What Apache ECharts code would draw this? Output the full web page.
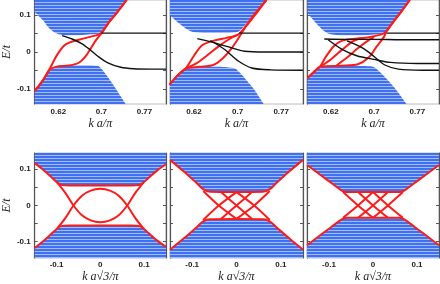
<!DOCTYPE html>
<html><head><meta charset="utf-8">
<script src="https://cdn.jsdelivr.net/npm/echarts@6/dist/echarts.min.js"></script>
<style>html,body{margin:0;padding:0;background:#fff}#c{width:440px;height:284px}</style>
</head><body><div id="c"></div>
<script>
// ---------- tick labels ----------
const topTicks = [0.62, 0.70, 0.78];
const topTickLabels = ['0.62', '0.7', '0.77'];
const botTicks = [-0.1, 0, 0.1];
const botTickLabels = ['-0.1', '0', '0.1'];
const yTickVals = [-0.1, -0.05, 0, 0.05, 0.1];
const yLabelVals = [-0.1, 0, 0.1];

// ---------- top row (k a / pi) ----------
// panel 1
const t1UpperBand = [[0.576,0.108],[0.591,0.086],[0.603,0.064],[0.615,0.051],[0.627,0.046],[0.652,0.045],[0.676,0.047],[0.694,0.049],[0.700,0.053],[0.712,0.077],[0.730,0.110],[0.745,0.14]];
const t1LowerBand = [[0.576,-0.104],[0.591,-0.074],[0.603,-0.052],[0.615,-0.041],[0.640,-0.036],[0.670,-0.0355],[0.694,-0.038],[0.706,-0.056],[0.724,-0.093],[0.745,-0.14]];
const t1RedA = [[0.576,-0.105],[0.591,-0.077],[0.603,-0.048],[0.618,-0.007],[0.633,0.020],[0.658,0.033],[0.688,0.044],[0.700,0.051],[0.712,0.076],[0.730,0.108],[0.747,0.14]];
const t1RedB = [[0.576,-0.105],[0.591,-0.077],[0.603,-0.049],[0.615,-0.040],[0.640,-0.0365],[0.658,-0.029],[0.673,-0.007],[0.688,0.028],[0.700,0.051],[0.712,0.076],[0.730,0.108],[0.747,0.14]];
const t1BlackA = [[0.627,0.044],[0.6455,0.035],[0.664,0.022],[0.679,0.006],[0.694,-0.012],[0.712,-0.029],[0.736,-0.041],[0.76,-0.045],[0.791,-0.046],[0.82,-0.046]];
const t1BlackB = [[0.700,0.0507],[0.82,0.0507]];
// panel 2
const t2UpperBand = [[0.575,0.100],[0.590,0.080],[0.603,0.065],[0.615,0.055],[0.630,0.052],[0.660,0.051],[0.690,0.052],[0.702,0.055],[0.715,0.075],[0.735,0.110],[0.753,0.14]];
const t2LowerBand = [[0.575,-0.087],[0.590,-0.062],[0.605,-0.045],[0.620,-0.041],[0.650,-0.040],[0.680,-0.041],[0.696,-0.045],[0.710,-0.065],[0.730,-0.100],[0.748,-0.14]];
const t2RedA = [[0.575,-0.088],[0.590,-0.063],[0.605,-0.044],[0.620,-0.010],[0.635,0.018],[0.655,0.030],[0.680,0.038],[0.700,0.046],[0.710,0.060],[0.730,0.100],[0.753,0.14]];
const t2RedB = [[0.605,-0.044],[0.625,-0.030],[0.645,-0.008],[0.665,0.015],[0.685,0.035],[0.700,0.046]];
const t2RedC = [[0.575,-0.088],[0.590,-0.063],[0.605,-0.044],[0.630,-0.040],[0.655,-0.035],[0.672,-0.018],[0.690,0.012],[0.705,0.045],[0.715,0.068],[0.735,0.105],[0.753,0.14]];
const t2BlackA = [[0.626,0.036],[0.650,0.028],[0.680,0.015],[0.713,0.002],[0.750,0.0],[0.82,0.0]];
const t2BlackB = [[0.650,0.031],[0.677,0.006],[0.702,-0.025],[0.726,-0.043],[0.760,-0.048],[0.82,-0.049]];
const t2BlackC = [[0.703,0.0507],[0.82,0.0507]];
// panel 3
const t3UpperBand = [[0.577,0.105],[0.590,0.082],[0.603,0.062],[0.615,0.050],[0.630,0.046],[0.660,0.045],[0.690,0.046],[0.715,0.049],[0.723,0.056],[0.735,0.080],[0.750,0.108],[0.766,0.14]];
const t3LowerBand = [[0.577,-0.070],[0.590,-0.052],[0.600,-0.041],[0.620,-0.038],[0.650,-0.037],[0.680,-0.038],[0.700,-0.041],[0.715,-0.060],[0.740,-0.100],[0.760,-0.14]];
const t3RedA = [[0.577,-0.070],[0.590,-0.052],[0.600,-0.040],[0.610,-0.015],[0.625,0.015],[0.640,0.030],[0.660,0.035],[0.690,0.040],[0.715,0.048],[0.723,0.056],[0.735,0.080],[0.750,0.108],[0.766,0.14]];
const t3RedB = [[0.600,-0.040],[0.620,-0.020],[0.640,0.005],[0.660,0.028],[0.675,0.037]];
const t3RedC = [[0.630,-0.037],[0.650,-0.015],[0.670,0.010],[0.690,0.032],[0.700,0.040]];
const t3RedD = [[0.577,-0.070],[0.590,-0.052],[0.600,-0.040],[0.640,-0.037],[0.670,-0.033],[0.690,-0.015],[0.705,0.015],[0.718,0.040],[0.723,0.056],[0.735,0.080],[0.750,0.108],[0.766,0.14]];
const t3BlackA = [[0.608,0.035],[0.650,0.034],[0.700,0.034],[0.750,0.033],[0.82,0.033]];
const t3BlackB = [[0.615,0.033],[0.640,0.008],[0.668,-0.010],[0.700,-0.020],[0.730,-0.028],[0.780,-0.031],[0.82,-0.031]];
const t3BlackC = [[0.650,0.030],[0.680,0.010],[0.700,-0.012],[0.720,-0.035],[0.745,-0.046],[0.790,-0.049],[0.82,-0.049]];
const t3BlackD = [[0.723,0.0507],[0.82,0.0507]];

// ---------- bottom row (k a sqrt3 / pi) ----------
const b1TopEdge = [[-0.15,0.117],[-0.13,0.098],[-0.11,0.076],[-0.099,0.064],[-0.09,0.057],[-0.07,0.0555],[0,0.0555],[0.07,0.0555],[0.09,0.057],[0.099,0.064],[0.11,0.076],[0.13,0.097],[0.15,0.114]];
const b1BotEdge = [[-0.15,-0.117],[-0.13,-0.098],[-0.11,-0.076],[-0.099,-0.064],[-0.09,-0.057],[-0.07,-0.0555],[0,-0.0555],[0.07,-0.0555],[0.09,-0.057],[0.099,-0.064],[0.11,-0.076],[0.13,-0.097],[0.15,-0.114]];
const b1InnerU = [[-0.099,0.064],[-0.08,0.035],[-0.0614,0],[-0.042,-0.027],[-0.022,-0.041],[0,-0.046],[0.022,-0.041],[0.042,-0.027],[0.0614,0],[0.08,0.035],[0.099,0.064]];
const b1InnerN = [[-0.099,-0.064],[-0.08,-0.035],[-0.0614,0],[-0.042,0.027],[-0.022,0.041],[0,0.046],[0.022,0.041],[0.042,0.027],[0.0614,0],[0.08,-0.035],[0.099,-0.064]];

const b2TopEdge = [[-0.15,0.126],[-0.12,0.095],[-0.09,0.062],[-0.075,0.045],[-0.06,0.038],[0,0.0375],[0.06,0.038],[0.075,0.045],[0.09,0.062],[0.12,0.095],[0.15,0.126]];
const b2BotEdge = [[-0.15,-0.122],[-0.12,-0.092],[-0.09,-0.060],[-0.075,-0.044],[-0.06,-0.038],[0,-0.0375],[0.06,-0.038],[0.075,-0.044],[0.09,-0.060],[0.12,-0.092],[0.15,-0.122]];
const b2InnerA = [[-0.075,0.040],[-0.04,0.0],[0,-0.037]];
const b2InnerB = [[0,-0.037],[0.04,0.0],[0.075,0.040]];
const b2InnerC = [[-0.075,-0.040],[-0.04,0.0],[0,0.037]];
const b2InnerD = [[0,0.037],[0.04,0.0],[0.075,-0.040]];
const b2InnerE = [[-0.035,0.037],[0,0.0],[0.035,-0.037]];
const b2InnerF = [[-0.035,-0.037],[0,0.0],[0.035,0.037]];

const b3TopEdge = [[-0.15,0.112],[-0.12,0.085],[-0.09,0.058],[-0.072,0.042],[-0.06,0.037],[0,0.037],[0.06,0.037],[0.072,0.042],[0.09,0.058],[0.12,0.085],[0.15,0.112]];
const b3BotEdge = [[-0.15,-0.110],[-0.12,-0.082],[-0.09,-0.055],[-0.072,-0.039],[-0.06,-0.034],[0,-0.034],[0.06,-0.034],[0.072,-0.039],[0.09,-0.055],[0.12,-0.082],[0.15,-0.110]];
const b3InnerA = [[-0.068,0.037],[-0.034,0.0],[0,-0.034]];
const b3InnerB = [[0,-0.034],[0.034,0.0],[0.068,0.037]];
const b3InnerC = [[-0.068,-0.034],[-0.034,0.0],[0,0.037]];
const b3InnerD = [[0,0.037],[0.034,0.0],[0.068,-0.034]];
const b3InnerE = [[-0.034,0.037],[0,0.0],[0.034,-0.034]];
const b3InnerF = [[-0.034,-0.034],[0,0.0],[0.034,0.037]];

// ---------- build ----------
const chart = echarts.init(document.getElementById('c'), null, {renderer: 'canvas'});

const pc = document.createElement('canvas');
pc.width = 4; pc.height = 3;
const pctx = pc.getContext('2d');
pctx.fillStyle = '#3f70f0'; pctx.fillRect(0,0,4,2);
pctx.fillStyle = '#a3bcf8'; pctx.fillRect(0,2,4,1);
const bandFill = {image: pc, repeat: 'repeat'};

const lefts = [32, 170, 307];
const widths = [134, 133, 132];
const grids = [], xAxes = [], yAxes = [], series = [];
for (let r = 0; r < 2; r++) {
  for (let c = 0; c < 3; c++) {
    const gi = r * 3 + c;
    grids.push({left: lefts[c], width: widths[c], top: r === 0 ? 0 : 153, height: r === 0 ? 104 : 105,
      show: true, borderColor: '#bbb', borderWidth: 1});
    const ticks = r === 0 ? topTicks : botTicks;
    const labels = r === 0 ? topTickLabels : botTickLabels;
    xAxes.push({gridIndex: gi, type: 'value',
      min: r === 0 ? 0.576 : -0.15, max: r === 0 ? 0.82 : 0.15,
      axisLine: {show: false, onZero: false}, splitLine: {show: false},
      axisTick: {show: false},
      axisLabel: {customValues: ticks, margin: r === 0 ? 4 : 3, fontSize: 8, fontWeight: 'bold',
        fontFamily: 'Liberation Sans', color: '#222',
        formatter: function (v) { let k = 0; for (let i = 0; i < ticks.length; i++) if (Math.abs(ticks[i]-v) < 1e-6) k = i; return labels[k]; }},
      name: r === 0 ? 'k a/π' : 'k a√3/π', nameLocation: 'middle', nameGap: r === 0 ? 14 : 13,
      nameTextStyle: {fontFamily: 'Liberation Serif', fontStyle: 'italic', fontSize: 12, color: '#222'}
    });
    const yr = r === 0 ? 0.14 : 0.145;
    yAxes.push({gridIndex: gi, type: 'value', min: -yr, max: yr, position: 'left',
      axisLine: {show: true, onZero: false, lineStyle: {color: '#555', width: 1.2}},
      splitLine: {show: false},
      axisTick: {show: true, inside: true, length: 3, customValues: yTickVals, lineStyle: {color: '#555'}},
      axisLabel: {show: c === 0, customValues: yLabelVals, fontSize: 8, fontWeight: 'bold', margin: 4,
        fontFamily: 'Liberation Sans', color: '#222', formatter: v => (Math.abs(v) < 1e-9 ? '0' : String(v))},
      name: c === 0 ? 'E/t' : '', nameLocation: 'middle', nameGap: 17,
      nameTextStyle: {fontFamily: 'Liberation Serif', fontStyle: 'italic', fontSize: 12, color: '#222'}
    });
    yAxes.push({gridIndex: gi, type: 'value', min: -yr, max: yr, position: 'right',
      axisLine: {show: true, onZero: false, lineStyle: {color: '#555', width: 1.2}},
      splitLine: {show: false},
      axisTick: {show: true, inside: true, length: 3, customValues: yTickVals, lineStyle: {color: '#555'}},
      axisLabel: {show: false}});
  }
}

function area(gi, data, origin) {
  series.push({type: 'line', xAxisIndex: gi, yAxisIndex: gi * 2, data: data, smooth: 0.25,
    showSymbol: false, silent: true, lineStyle: {width: 0}, z: 1,
    areaStyle: {color: bandFill, opacity: 1, origin: origin}});
}
function curve(gi, data, color, w, z) {
  series.push({type: 'line', xAxisIndex: gi, yAxisIndex: gi * 2, data: data, smooth: 0.3,
    showSymbol: false, silent: true, lineStyle: {width: w, color: color}, z: z});
}
const RED = '#ff1a1a', BLK = '#111111';

area(0, t1UpperBand, 'end'); area(0, t1LowerBand, 'start');
[t1RedA, t1RedB].forEach(d => curve(0, d, RED, 2, 3));
[t1BlackA, t1BlackB].forEach(d => curve(0, d, BLK, 1.4, 4));

area(1, t2UpperBand, 'end'); area(1, t2LowerBand, 'start');
[t2RedA, t2RedB, t2RedC].forEach(d => curve(1, d, RED, 2, 3));
[t2BlackA, t2BlackB, t2BlackC].forEach(d => curve(1, d, BLK, 1.4, 4));

area(2, t3UpperBand, 'end'); area(2, t3LowerBand, 'start');
[t3RedA, t3RedB, t3RedC, t3RedD].forEach(d => curve(2, d, RED, 2, 3));
[t3BlackA, t3BlackB, t3BlackC, t3BlackD].forEach(d => curve(2, d, BLK, 1.4, 4));

area(3, b1TopEdge, 'end'); area(3, b1BotEdge, 'start');
[b1TopEdge, b1BotEdge, b1InnerU, b1InnerN].forEach(d => curve(3, d, RED, 2, 3));

area(4, b2TopEdge, 'end'); area(4, b2BotEdge, 'start');
[b2TopEdge, b2BotEdge, b2InnerA, b2InnerB, b2InnerC, b2InnerD, b2InnerE, b2InnerF].forEach(d => curve(4, d, RED, 2, 3));

area(5, b3TopEdge, 'end'); area(5, b3BotEdge, 'start');
[b3TopEdge, b3BotEdge, b3InnerA, b3InnerB, b3InnerC, b3InnerD, b3InnerE, b3InnerF].forEach(d => curve(5, d, RED, 2, 3));

chart.setOption({animation: false, grid: grids, xAxis: xAxes, yAxis: yAxes, series: series});
</script></body></html>
